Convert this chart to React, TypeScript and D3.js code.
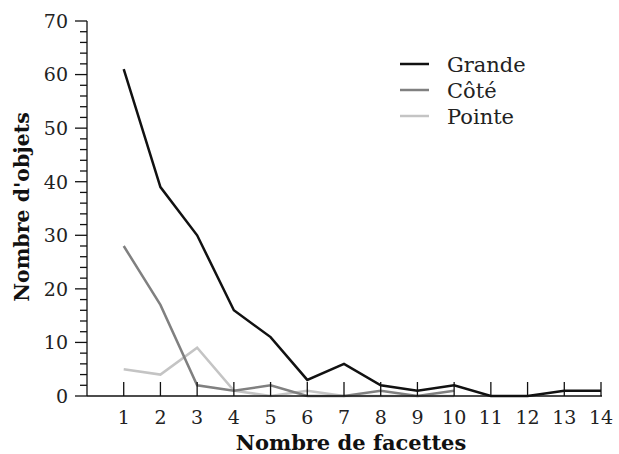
import React from "react";
import * as d3 from "d3";

const facettes = [1, 2, 3, 4, 5, 6, 7, 8, 9, 10, 11, 12, 13, 14];
const grande = [61, 39, 30, 16, 11, 3, 6, 2, 1, 2, 0, 0, 1, 1];
const cote = [28, 17, 2, 1, 2, 0, 0, 1, 0, 1];
const pointe = [5, 4, 9, 1, 0, 1, 0, 0, 0, 0];
const yTicks = [0, 10, 20, 30, 40, 50, 60, 70];
const seriesNames = ["Grande", "Côté", "Pointe"];
const seriesColors = ["#111111", "#808080", "#c4c4c4"];

const W = 619;
const H = 454;
const FONT = "'DejaVu Serif', serif";

export default function App() {
  const x = d3.scaleLinear().domain([0, 14]).range([87, 601]);
  const y = d3.scaleLinear().domain([0, 70]).range([396, 21]);
  const series = [grande, cote, pointe];
  const line = d3
    .line<number>()
    .x((_, i) => x(facettes[i]))
    .y((d) => y(d));
  const minor = d3.range(0, 71, 2).filter((v) => v % 10 !== 0);

  return (
    <svg
      width={W}
      height={H}
      style={{ position: "absolute", left: 0, top: 0, background: "#fff" }}
      fontFamily={FONT}
    >
      {series
        .map((s, k) => (
          <path
            key={k}
            d={line(s) || ""}
            fill="none"
            stroke={seriesColors[k]}
            strokeWidth={2.5}
          />
        ))
        .reverse()}
      {/* y axis */}
      <line x1={87} x2={87} y1={y(70)} y2={y(0)} stroke="#111" strokeWidth={1.3} />
      {yTicks.map((t) => (
        <g key={t}>
          <line x1={75} x2={87} y1={y(t)} y2={y(t)} stroke="#111" strokeWidth={1.3} />
          <text x={68} y={y(t)} dy="0.36em" textAnchor="end" fontSize={19} fill="#222">
            {t}
          </text>
        </g>
      ))}
      {minor.map((t) => (
        <line key={t} x1={80} x2={87} y1={y(t)} y2={y(t)} stroke="#111" strokeWidth={1.3} />
      ))}
      {/* x axis */}
      <line x1={87} x2={x(14) + 1} y1={y(0)} y2={y(0)} stroke="#111" strokeWidth={1.3} />
      {facettes.map((f) => (
        <g key={f}>
          <line x1={x(f)} x2={x(f)} y1={y(0)} y2={y(0) - 14} stroke="#111" strokeWidth={1.3} />
          <text x={x(f)} y={424} textAnchor="middle" fontSize={19} fill="#222">
            {f}
          </text>
        </g>
      ))}
      {/* axis titles */}
      <text x={351} y={450} textAnchor="middle" fontSize={21} fontWeight="bold" fill="#111">
        Nombre de facettes
      </text>
      <text
        transform={`translate(29,${207}) rotate(-90)`}
        textAnchor="middle"
        fontSize={20.5}
        fontWeight="bold"
        fill="#111"
      >
        Nombre d'objets
      </text>
      {/* legend */}
      {seriesNames.map((n, k) => (
        <g key={n} transform={`translate(400,${64 + k * 26})`}>
          <line x1={0} x2={29} y1={0} y2={0} stroke={seriesColors[k]} strokeWidth={2.5} />
          <text x={47} y={0} dy="0.36em" fontSize={21} fill="#222">
            {n}
          </text>
        </g>
      ))}
    </svg>
  );
}
